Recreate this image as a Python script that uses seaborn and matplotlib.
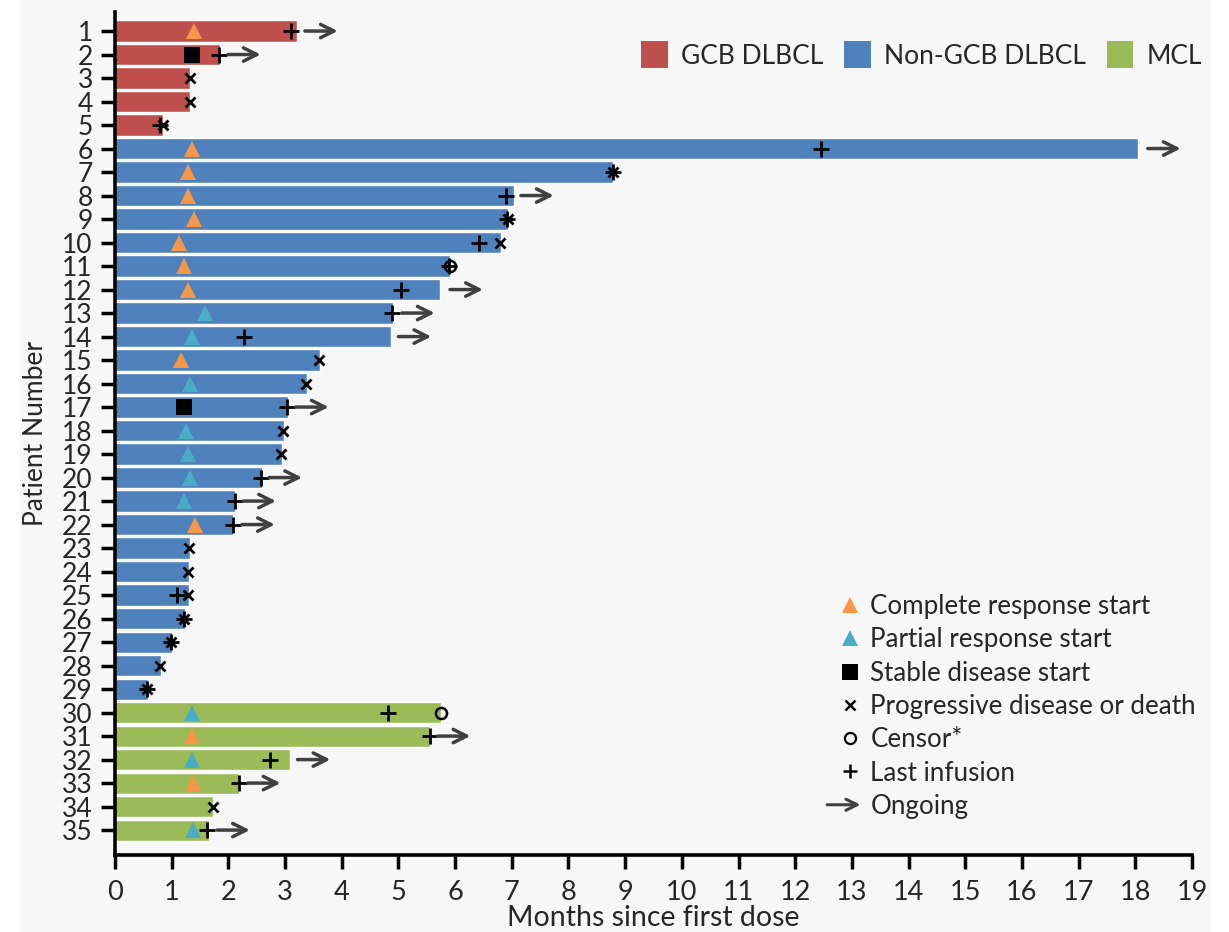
import numpy as np
import pandas as pd
import seaborn as sns
import matplotlib.pyplot as plt
from matplotlib.lines import Line2D
from matplotlib.patches import Patch, Rectangle, FancyArrowPatch
from matplotlib.legend_handler import HandlerBase

# ---- data ----
patients = list(range(1, 36))
groups = ['GCB DLBCL'] * 5 + ['Non-GCB DLBCL'] * 24 + ['MCL'] * 6
months = [3.21, 1.85, 1.33, 1.33, 0.84,
          18.05, 8.78, 7.04, 6.93, 6.81, 5.91, 5.74, 4.91, 4.87, 3.62, 3.39, 3.05,
          2.98, 2.94, 2.59, 2.12, 2.08, 1.32, 1.31, 1.31, 1.24, 1.01, 0.81, 0.58,
          5.75, 5.56, 3.09, 2.18, 1.73, 1.65]

cr_pat = [1, 6, 7, 8, 9, 10, 11, 12, 15, 22, 31, 33]
cr_mo = [1.39, 1.35, 1.29, 1.29, 1.39, 1.13, 1.22, 1.29, 1.16, 1.42, 1.35, 1.38]
pr_pat = [13, 14, 16, 18, 19, 20, 21, 30, 32, 35]
pr_mo = [1.59, 1.35, 1.33, 1.26, 1.29, 1.33, 1.22, 1.35, 1.35, 1.37]
sd_pat = [2, 17]
sd_mo = [1.35, 1.21]
pd_pat = [3, 4, 5, 7, 9, 10, 15, 16, 18, 19, 23, 24, 25, 26, 27, 28, 29, 34]
pd_mo = [1.32, 1.32, 0.84, 8.78, 6.93, 6.80, 3.60, 3.37, 2.96, 2.93, 1.31, 1.29,
         1.29, 1.22, 0.99, 0.79, 0.57, 1.73]
cens_pat = [11, 30]
cens_mo = [5.91, 5.75]
inf_pat = [1, 2, 5, 6, 7, 8, 9, 10, 11, 12, 13, 14, 17, 20, 21, 22, 25, 26, 27, 29,
           30, 31, 32, 33, 35]
inf_mo = [3.11, 1.83, 0.80, 12.45, 8.78, 6.89, 6.91, 6.43, 5.89, 5.05, 4.88, 2.28,
          3.04, 2.58, 2.12, 2.08, 1.09, 1.21, 0.98, 0.56, 4.81, 5.55, 2.74, 2.18, 1.63]
ong_pat = [1, 2, 6, 8, 12, 13, 14, 17, 20, 21, 22, 31, 32, 33, 35]
ong_start = [3.35, 1.99, 18.22, 7.16, 5.91, 5.06, 5.00, 3.19, 2.72, 2.26, 2.24,
             5.69, 3.22, 2.34, 1.80]
ong_len = 0.58

group_order = ['GCB DLBCL', 'Non-GCB DLBCL', 'MCL']
group_colors = ['#C0504D', '#4F81BD', '#9BBB59']
xticks = list(range(0, 20))


class ArrowHandler(HandlerBase):
    # open arrow for the "Ongoing" legend entry
    def create_artists(self, legend, orig_handle, xdescent, ydescent, width, height,
                       fontsize, trans):
        y = height / 2 - ydescent
        a = FancyArrowPatch((-xdescent - 0.22 * width, y), (-xdescent + 0.85 * width, y),
                            arrowstyle='->', mutation_scale=20, lw=2.2, color='#404040',
                            shrinkA=0, shrinkB=0, transform=trans)
        return [a]


sns.set_theme(style='white')
plt.rcParams['font.family'] = ['Lato', 'DejaVu Sans']

fig = plt.figure(figsize=(12.29, 9.32), dpi=100, facecolor='white')
fig.patches.append(Rectangle((20 / 1229, 0), 1191 / 1229, 1, transform=fig.transFigure,
                             facecolor='#f7f7f7', edgecolor='none', zorder=-10))
ax = fig.add_axes([115 / 1229, 1 - 855 / 932, 1077 / 1229, 843 / 932])
ax.set_facecolor('none')

df = pd.DataFrame({'patient': [str(p) for p in patients], 'months': months, 'group': groups})
sns.barplot(data=df, x='months', y='patient', hue='group', order=df['patient'],
            hue_order=group_order, palette=group_colors, dodge=False, width=0.9,
            orient='h', saturation=1, legend=False, ax=ax, zorder=2)

mk = dict(linestyle='None', zorder=4)
ax.plot(cr_mo, np.array(cr_pat) - 1, marker='^', color='#F79646', ms=12, mew=0, **mk)
ax.plot(pr_mo, np.array(pr_pat) - 1, marker='^', color='#4BACC6', ms=12, mew=0, **mk)
ax.plot(sd_mo, np.array(sd_pat) - 1, marker='s', color='black', ms=12, mew=0, **mk)
ax.plot(pd_mo, np.array(pd_pat) - 1, marker='x', color='black', ms=7, mew=2, **mk)
ax.plot(cens_mo, np.array(cens_pat) - 1, marker='o', mfc='none', mec='black', ms=8, mew=1.8, **mk)
ax.plot(inf_mo, np.array(inf_pat) - 1, marker='+', color='black', ms=11, mew=2, **mk)

for p, s in zip(ong_pat, ong_start):
    ax.annotate('', xy=(s + ong_len, p - 1), xytext=(s, p - 1),
                arrowprops=dict(arrowstyle='->', color='#404040', lw=2.5, mutation_scale=24,
                                shrinkA=0, shrinkB=0), zorder=5)

ax.set_xlim(0, 19)
ax.set_ylim(35.06, -0.81)
ax.set_xticks(xticks)
ax.set_xticklabels([str(t) for t in xticks], fontsize=19.5)
ax.tick_params(axis='y', labelsize=19)
ax.tick_params(axis='both', direction='out', length=10, width=2.5, color='black', pad=6,
               left=True, bottom=True)
ax.tick_params(axis='x', pad=8)
for side in ['top', 'right']:
    ax.spines[side].set_visible(False)
for side in ['left', 'bottom']:
    ax.spines[side].set_linewidth(2.6)
    ax.spines[side].set_color('black')
ax.spines['left'].set_zorder(6)
ax.set_xlabel('Months since first dose', fontsize=20.5, labelpad=0)
ax.set_ylabel('Patient Number', fontsize=19, labelpad=10)

# group legend
ghandles = [Patch(facecolor=c, edgecolor='none') for c in group_colors]
fig.legend(ghandles, group_order, loc='upper right', bbox_to_anchor=(1215 / 1229, 1 - 28 / 932),
           ncol=3, frameon=False, fontsize=19, handlelength=1.0, handleheight=1.2,
           handletextpad=0.5, columnspacing=0.8, borderpad=0)

# marker legend
arrow_handle = Patch()
mhandles = [
    Line2D([], [], marker='^', color='#F79646', ms=12, mew=0, linestyle='None'),
    Line2D([], [], marker='^', color='#4BACC6', ms=12, mew=0, linestyle='None'),
    Line2D([], [], marker='s', color='black', ms=12, mew=0, linestyle='None'),
    Line2D([], [], marker='x', color='black', ms=7, mew=1.8, linestyle='None'),
    Line2D([], [], marker='o', mfc='none', mec='black', ms=8, mew=1.6, linestyle='None'),
    Line2D([], [], marker='+', color='black', ms=10, mew=1.8, linestyle='None'),
    arrow_handle,
]
mlabels = ['Complete response start', 'Partial response start', 'Stable disease start',
           'Progressive disease or death', 'Censor*', 'Last infusion', 'Ongoing']
fig.legend(mhandles, mlabels, loc='upper left', bbox_to_anchor=(821 / 1229, 1 - 581 / 932),
           frameon=False, fontsize=18.7, handlelength=1.2, handletextpad=0.2,
           labelspacing=0.32, borderpad=0, handler_map={arrow_handle: ArrowHandler()})

fig.savefig('out.png', dpi=100, facecolor=fig.get_facecolor())
